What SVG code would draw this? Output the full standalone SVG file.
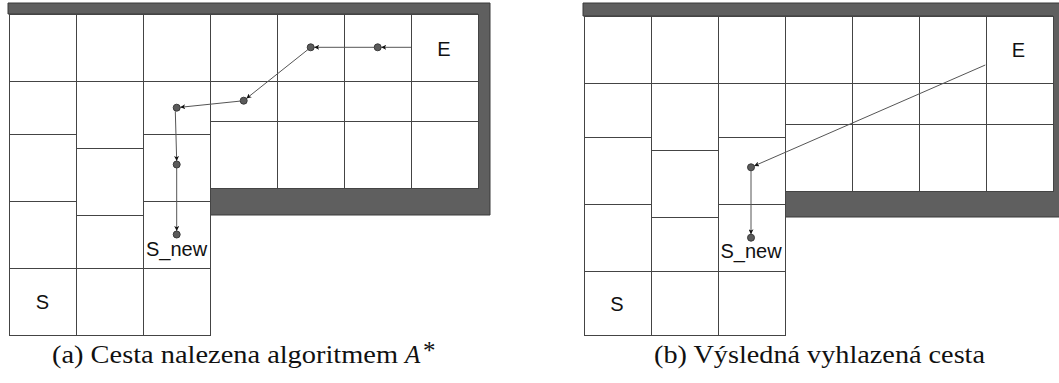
<svg xmlns="http://www.w3.org/2000/svg" width="1059" height="383" viewBox="0 0 1059 383">
<defs>
<marker id="arr" viewBox="0 0 10 10" refX="10" refY="5" markerWidth="5" markerHeight="5" markerUnits="userSpaceOnUse" orient="auto">
<path d="M0,0 L10,5 L0,10 L2.5,5 z" fill="#111"/>
</marker>
<style>
.wall{fill:#5f5f5f;stroke:#3a3a3a;stroke-width:1}
.cell{fill:#fff;stroke:#444;stroke-width:1}
.pt{fill:#5b5b5b;stroke:#3a3a3a;stroke-width:1}
.con{fill:none;stroke:#555;stroke-width:1;marker-end:url(#arr)}
.lbl{font-family:"Liberation Sans",Arial,sans-serif;font-size:20px;fill:#111;text-anchor:middle}
.cap{font-family:"Liberation Serif","Times New Roman",serif;font-size:25px;fill:#111}
</style>
</defs>
<rect width="1059" height="383" fill="#fff"/>

<!-- Panel (a) -->
<g id="panel-a">
<path id="wall-a" class="wall" d="M8,3 H490 V215 H210 V188 H478 V14 H8 Z"/>
<g id="grid-a">
<rect class="cell" x="9.5" y="14.5" width="67" height="67"/>
<rect class="cell" x="9.5" y="81.5" width="67" height="53"/>
<rect class="cell" x="9.5" y="134.5" width="67" height="67"/>
<rect class="cell" x="9.5" y="201.5" width="67" height="67"/>
<rect class="cell" x="9.5" y="268.5" width="67" height="67"/>
<rect class="cell" x="76.5" y="14.5" width="67" height="67"/>
<rect class="cell" x="76.5" y="81.5" width="67" height="67"/>
<rect class="cell" x="76.5" y="148.5" width="67" height="67"/>
<rect class="cell" x="76.5" y="215.5" width="67" height="53"/>
<rect class="cell" x="76.5" y="268.5" width="67" height="67"/>
<rect class="cell" x="143.5" y="14.5" width="67" height="67"/>
<rect class="cell" x="143.5" y="81.5" width="67" height="53"/>
<rect class="cell" x="143.5" y="134.5" width="67" height="67"/>
<rect class="cell" x="143.5" y="201.5" width="67" height="67"/>
<rect class="cell" x="143.5" y="268.5" width="67" height="67"/>
<rect class="cell" x="210.5" y="14.5" width="67" height="67"/>
<rect class="cell" x="210.5" y="81.5" width="67" height="40"/>
<rect class="cell" x="210.5" y="121.5" width="67" height="67"/>
<rect class="cell" x="277.5" y="14.5" width="67" height="67"/>
<rect class="cell" x="277.5" y="81.5" width="67" height="40"/>
<rect class="cell" x="277.5" y="121.5" width="67" height="67"/>
<rect class="cell" x="344.5" y="14.5" width="67" height="67"/>
<rect class="cell" x="344.5" y="81.5" width="67" height="40"/>
<rect class="cell" x="344.5" y="121.5" width="67" height="67"/>
<rect class="cell" x="411.5" y="14.5" width="67" height="67"/>
<rect class="cell" x="411.5" y="81.5" width="67" height="40"/>
<rect class="cell" x="411.5" y="121.5" width="67" height="67"/>
</g>
<g id="label-E-a"><text class="lbl" x="444" y="55.5">E</text></g>
<g id="label-S-a"><text class="lbl" x="42.5" y="309">S</text></g>
<g id="label-Snew-a"><text class="lbl" x="176.5" y="256">S_new</text></g>
<g id="connectors-a">
<line class="con" x1="411" y1="47.3" x2="381.2" y2="47.3"/>
<line class="con" x1="374.2" y1="47.3" x2="314.2" y2="47.3"/>
<line class="con" x1="308" y1="49.5" x2="246.4" y2="98.5"/>
<line class="con" x1="240.2" y1="101.1" x2="180.2" y2="107.3"/>
<line class="con" x1="175.3" y1="111.2" x2="176.7" y2="161"/>
<line class="con" x1="176.7" y1="168" x2="176.7" y2="231"/>
</g>
<g id="node-a1"><circle class="pt" cx="377.7" cy="47.3" r="3.5"/></g>
<g id="node-a2"><circle class="pt" cx="310.7" cy="47.3" r="3.5"/></g>
<g id="node-a3"><circle class="pt" cx="243.7" cy="100.7" r="3.5"/></g>
<g id="node-a4"><circle class="pt" cx="176.7" cy="107.7" r="3.5"/></g>
<g id="node-a5"><circle class="pt" cx="176.7" cy="164.5" r="3.5"/></g>
<g id="node-a6"><circle class="pt" cx="176.7" cy="234.5" r="3.5"/></g>
</g>

<!-- Panel (b) -->
<g id="panel-b">
<path id="wall-b" class="wall" d="M583,3 H1065 V217 H785 V191 H1053 V16 H583 Z"/>
<g id="grid-b">
<rect class="cell" x="584.5" y="16.5" width="67" height="67"/>
<rect class="cell" x="584.5" y="83.5" width="67" height="54"/>
<rect class="cell" x="584.5" y="137.5" width="67" height="67"/>
<rect class="cell" x="584.5" y="204.5" width="67" height="67"/>
<rect class="cell" x="584.5" y="271.5" width="67" height="64"/>
<rect class="cell" x="651.5" y="16.5" width="67" height="67"/>
<rect class="cell" x="651.5" y="83.5" width="67" height="67"/>
<rect class="cell" x="651.5" y="150.5" width="67" height="67"/>
<rect class="cell" x="651.5" y="217.5" width="67" height="54"/>
<rect class="cell" x="651.5" y="271.5" width="67" height="64"/>
<rect class="cell" x="718.5" y="16.5" width="67" height="67"/>
<rect class="cell" x="718.5" y="83.5" width="67" height="54"/>
<rect class="cell" x="718.5" y="137.5" width="67" height="67"/>
<rect class="cell" x="718.5" y="204.5" width="67" height="67"/>
<rect class="cell" x="718.5" y="271.5" width="67" height="64"/>
<rect class="cell" x="785.5" y="16.5" width="67" height="67"/>
<rect class="cell" x="785.5" y="83.5" width="67" height="41"/>
<rect class="cell" x="785.5" y="124.5" width="67" height="67"/>
<rect class="cell" x="852.5" y="16.5" width="67" height="67"/>
<rect class="cell" x="852.5" y="83.5" width="67" height="41"/>
<rect class="cell" x="852.5" y="124.5" width="67" height="67"/>
<rect class="cell" x="919.5" y="16.5" width="67" height="67"/>
<rect class="cell" x="919.5" y="83.5" width="67" height="41"/>
<rect class="cell" x="919.5" y="124.5" width="67" height="67"/>
<rect class="cell" x="986.5" y="16.5" width="67" height="67"/>
<rect class="cell" x="986.5" y="83.5" width="67" height="41"/>
<rect class="cell" x="986.5" y="124.5" width="67" height="67"/>
</g>
<g id="label-E-b"><text class="lbl" x="1018.5" y="57.3">E</text></g>
<g id="label-S-b"><text class="lbl" x="617" y="311">S</text></g>
<g id="label-Snew-b"><text class="lbl" x="751" y="258.3">S_new</text></g>
<g id="connectors-b">
<line class="con" x1="985.3" y1="65" x2="754.2" y2="165.9"/>
<line class="con" x1="751" y1="170.8" x2="751" y2="234.2"/>
</g>
<g id="node-b1"><circle class="pt" cx="751" cy="167.3" r="3.5"/></g>
<g id="node-b2"><circle class="pt" cx="751" cy="237.7" r="3.5"/></g>
</g>

<!-- Captions -->
<g id="caption-a">
<text class="cap" x="52" y="363" textLength="346" lengthAdjust="spacingAndGlyphs">(a) Cesta nalezena algoritmem</text>
<text class="cap" x="405" y="363" font-style="italic">A</text>
<text class="cap" x="423" y="359" font-size="15">*</text>
</g>
<g id="caption-b">
<text class="cap" x="654" y="363" textLength="331" lengthAdjust="spacingAndGlyphs">(b) Výsledná vyhlazená cesta</text>
</g>
</svg>
